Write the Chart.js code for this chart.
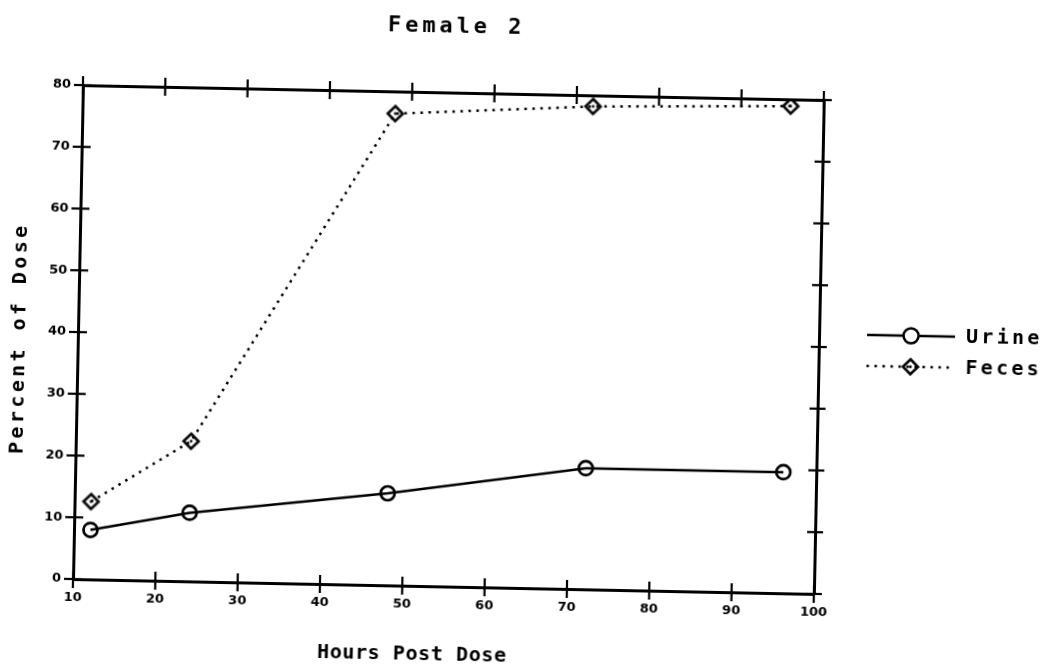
<!DOCTYPE html>
<html>
<head>
<meta charset="utf-8">
<script src="https://cdn.jsdelivr.net/npm/chart.js@4.4.1/dist/chart.umd.min.js"></script>
<style>
  html, body { margin: 0; padding: 0; background: #fff; overflow: hidden; }
  #wrap { width: 1045px; height: 670px; transform: rotate(1.15deg); transform-origin: 50% 50%; }
  canvas { display: block; }
</style>
</head>
<body>
<div id="wrap"><canvas id="c" width="1045" height="670"></canvas></div>
<script>
// Cumulative excretion, percent of administered dose
const hours = [12, 24, 48, 72, 96];
const urine = [8.0, 11.1, 14.9, 19.6, 19.6];
const feces = [12.6, 22.7, 76.4, 78.2, 78.9];

const xTicks = [10, 20, 30, 40, 50, 60, 70, 80, 90, 100];
const yTicks = [0, 10, 20, 30, 40, 50, 60, 70, 80];

const chartTitle = 'Female 2';
const xTitle = 'Hours Post Dose';
const yTitle = 'Percent of Dose';
const seriesNames = ['Urine', 'Feces'];

const plotterFont = '"DejaVu Sans Mono", monospace';
const tickFont = { family: '"DejaVu Sans", sans-serif', size: 13, weight: 'bold' };

// hollow diamond marker with a dot in the middle
function diamondMarker(r, lw) {
  const size = Math.ceil(2 * r + lw + 2);
  const cv = document.createElement('canvas');
  cv.width = size; cv.height = size;
  const g = cv.getContext('2d');
  const c = size / 2;
  g.strokeStyle = '#000';
  g.lineWidth = lw;
  g.lineJoin = 'miter';
  g.beginPath();
  g.moveTo(c, c - r); g.lineTo(c + r, c); g.lineTo(c, c + r); g.lineTo(c - r, c);
  g.closePath();
  g.stroke();
  g.fillStyle = '#000';
  g.beginPath();
  g.arc(c, c, 1.4, 0, Math.PI * 2);
  g.fill();
  return cv;
}
const diamond = diamondMarker(7.5, 2.6);

// text with extra letter spacing, centred on (x, y)
function spacedText(ctx, text, x, y, size, spacing, angle) {
  ctx.save();
  ctx.font = 'bold ' + size + 'px ' + plotterFont;
  ctx.letterSpacing = spacing + 'px';
  ctx.textAlign = 'left';
  ctx.textBaseline = 'middle';
  ctx.fillStyle = '#000';
  const w = ctx.measureText(text).width - spacing;
  ctx.translate(x, y);
  if (angle) ctx.rotate(angle);
  ctx.fillText(text, -w / 2, 0);
  ctx.restore();
}

function leftText(ctx, text, x, y, size, spacing) {
  ctx.save();
  ctx.font = 'bold ' + size + 'px ' + plotterFont;
  ctx.letterSpacing = spacing + 'px';
  ctx.textAlign = 'left';
  ctx.textBaseline = 'middle';
  ctx.fillStyle = '#000';
  ctx.fillText(text, x, y);
  ctx.restore();
}

function seg(ctx, x1, y1, x2, y2) {
  ctx.beginPath();
  ctx.moveTo(x1, y1);
  ctx.lineTo(x2, y2);
  ctx.stroke();
}

// crossing tick marks on all four sides, titles and the line/marker legend
const plotterDecor = {
  id: 'plotterDecor',
  afterDraw(chart) {
    const ctx = chart.ctx;
    const s = chart.scales;
    ctx.save();
    ctx.strokeStyle = '#000';
    ctx.lineWidth = 2.2;
    for (const v of xTicks) {
      const px = s.x.getPixelForValue(v);
      seg(ctx, px, s.x.top - 9, px, s.x.top + 9);
      const tx = s.x2.getPixelForValue(v);
      seg(ctx, tx, s.x2.bottom - 9, tx, s.x2.bottom + 9);
    }
    for (const v of yTicks) {
      const py = s.y.getPixelForValue(v);
      seg(ctx, s.y.right - 9, py, s.y.right + 9, py);
      const ry = s.y2.getPixelForValue(v);
      seg(ctx, s.y2.left - 8, ry, s.y2.left + 8, ry);
    }
    ctx.restore();

    const area = chart.chartArea;
    spacedText(ctx, chartTitle, (area.left + area.right) / 2, 28, 22, 3.9, 0);
    spacedText(ctx, xTitle, 418, 657, 20, 0.6, 0);
    spacedText(ctx, yTitle, 20, 350, 20, 3.4, -Math.PI / 2);

    // legend
    const rows = [328, 359];
    chart.data.datasets.forEach((ds, i) => {
      const y = rows[i];
      ctx.save();
      ctx.strokeStyle = '#000';
      ctx.lineWidth = ds.borderWidth;
      ctx.setLineDash(ds.borderDash || []);
      seg(ctx, 867, y, 955, y);
      ctx.setLineDash([]);
      ctx.fillStyle = '#fff';
      ctx.strokeStyle = '#000';
      Chart.helpers.drawPoint(ctx, {
        pointStyle: ds.pointStyle,
        radius: ds.pointRadius + 0.5,
        borderWidth: ds.pointBorderWidth,
        rotation: 0
      }, 911, y);
      ctx.restore();
      leftText(ctx, ds.label, 966, y + 1, 20, 3.3);
    });
  }
};

const points = (vals) => hours.map((h, i) => ({ x: h, y: vals[i] }));

new Chart(document.getElementById('c'), {
  type: 'line',
  data: {
    datasets: [
      {
        label: seriesNames[0],
        data: points(urine),
        borderColor: '#000',
        borderWidth: 2.5,
        pointStyle: 'circle',
        pointRadius: 7,
        pointBorderWidth: 2.7,
        pointBorderColor: '#000',
        pointBackgroundColor: 'rgba(0,0,0,0)',
        tension: 0,
        fill: false
      },
      {
        label: seriesNames[1],
        data: points(feces),
        borderColor: '#000',
        borderWidth: 2.5,
        borderDash: [2.5, 5.5],
        pointStyle: diamond,
        pointRadius: 7.5,
        pointBorderWidth: 2.6,
        pointBorderColor: '#000',
        pointBackgroundColor: 'rgba(0,0,0,0)',
        tension: 0,
        fill: false
      }
    ]
  },
  options: {
    responsive: false,
    devicePixelRatio: 1,
    animation: false,
    events: [],
    layout: { padding: { top: 94, right: 226, left: 0, bottom: 0 } },
    plugins: {
      legend: { display: false },
      title: { display: false },
      tooltip: { enabled: false }
    },
    scales: {
      x: {
        type: 'linear', position: 'bottom', min: 10, max: 100,
        grid: { display: false, drawTicks: false },
        border: { display: true, color: '#000', width: 3 },
        ticks: { stepSize: 10, color: '#000', font: tickFont, padding: 11, maxRotation: 0, autoSkip: false },
        afterFit: (sc) => { sc.height = 82; }
      },
      x2: {
        type: 'linear', position: 'top', min: 10, max: 100,
        grid: { display: false, drawTicks: false },
        border: { display: true, color: '#000', width: 3 },
        ticks: { display: false },
        afterFit: (sc) => { sc.height = 0; }
      },
      y: {
        type: 'linear', position: 'left', min: 0, max: 80,
        grid: { display: false, drawTicks: false },
        border: { display: true, color: '#000', width: 3 },
        ticks: { stepSize: 10, color: '#000', font: tickFont, padding: 12, autoSkip: false },
        afterFit: (sc) => { sc.width = 78; }
      },
      y2: {
        type: 'linear', position: 'right', min: 0, max: 80,
        grid: { display: false, drawTicks: false },
        border: { display: true, color: '#000', width: 3 },
        ticks: { display: false },
        afterFit: (sc) => { sc.width = 0; }
      }
    }
  },
  plugins: [plotterDecor]
});
</script>
</body>
</html>
